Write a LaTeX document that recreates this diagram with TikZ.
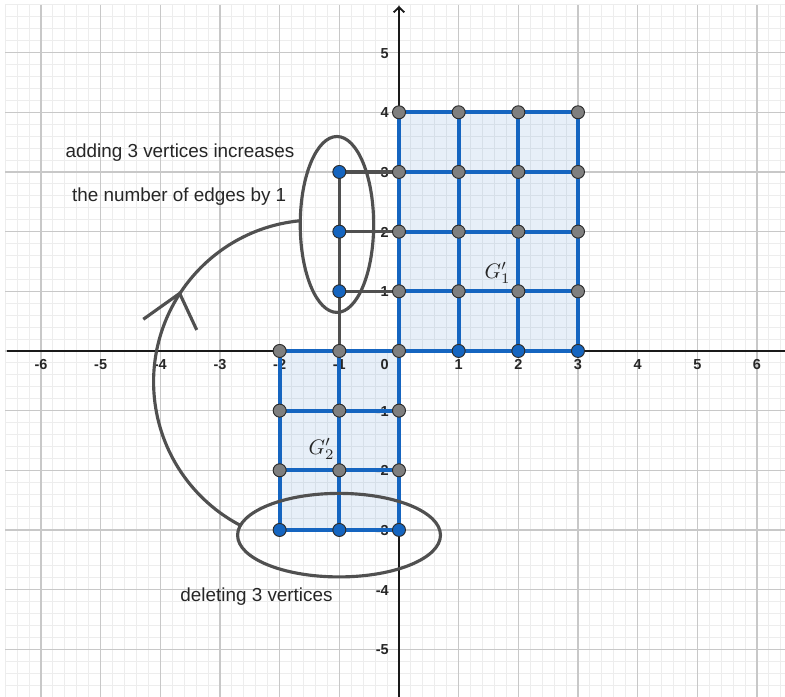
\documentclass[tikz,border=0pt]{standalone}
\usepackage{fontspec}
\setmainfont{Liberation Sans}
\usetikzlibrary{arrows.meta}
\definecolor{ggblue}{HTML}{1565C0}
\definecolor{gridmajor}{HTML}{C8C8C8}
\definecolor{gridminor}{HTML}{EDEDED}
\definecolor{axiscol}{HTML}{1A1A1A}
\definecolor{edgegray}{HTML}{505050}
\definecolor{vgray}{HTML}{7F7F7F}
\definecolor{vline}{HTML}{2B2B2B}
\definecolor{txt}{HTML}{262626}
\begin{document}
\begin{tikzpicture}[
  x=1cm,y=1cm,
  minorgrid/.style={gridminor, line width=0.45pt},
  majorgrid/.style={gridmajor, line width=0.6pt},
  axisline/.style={axiscol, line width=0.9pt},
  ticklab/.style={font=\fontsize{6.9}{8}\selectfont\bfseries, text=txt, inner sep=0pt},
  polyfill/.style={fill=ggblue, fill opacity=0.1},
  bedge/.style={ggblue, line width=1.9pt},
  gedge/.style={edgegray, line width=1.7pt},
  hoop/.style={edgegray, line width=1.5pt},
  gv/.style={circle, fill=vgray, draw=vline, line width=0.45pt, minimum size=6.2pt, inner sep=0pt},
  bv/.style={circle, fill=ggblue, draw=vline, line width=0.45pt, minimum size=6.2pt, inner sep=0pt},
  note/.style={font=\fontsize{9}{11}\selectfont, text=txt, inner sep=0pt, anchor=base},
  glabel/.style={font=\fontsize{10.3}{12}\selectfont, text=txt, inner sep=0pt}
]
\useasboundingbox (-6.687,-5.799) rectangle (6.469,5.882);
\fill[white] (-6.687,-5.799) rectangle (6.469,5.882);
% grid
\draw[minorgrid] (-6.6,-5.8) grid[step=0.2] (6.469,5.8);
\draw[majorgrid] (-6.6,-5.8) grid[step=1] (6.469,5.8);
% polygon fills
\fill[polyfill] (0,0) rectangle (3,4);
\fill[polyfill] (-2,-3) rectangle (0,0);
% axes
\coordinate (xl) at (-6.57,0);
\coordinate (xr) at (6.469,0);
\coordinate (yb) at (0,-5.799);
\coordinate (yt) at (0,5.782);
\draw[axisline] (xl) -- (xr);
\draw[axisline, -{Straight Barb[length=2.4pt,width=5pt]}] (yb) -- (yt);
% tick labels
\foreach \t in {-6,...,-1,1,2,3,4,5,6}
  \node[ticklab, anchor=base] (xt\t) at (\t,-0.307) {\t};
\foreach \t in {-5,...,-1,1,2,3,4,5}
  \node[ticklab, anchor=base east] (yt\t) at (-0.165,\t-0.092) {\t};
\node[ticklab, anchor=base east] (zero) at (-0.165,-0.307) {0};
% vertex positions
\foreach \x in {-2,...,3}
  \foreach \y in {-3,...,4}
    \coordinate (p\x y\y) at (\x,\y);
% G1' edges
\foreach \x in {0,...,3} \draw[bedge] (p\x y0) -- (p\x y4);
\foreach \y in {0,...,4} \draw[bedge] (p0y\y) -- (p3y\y);
% G2' edges
\foreach \x in {-2,-1,0} \draw[bedge] (p\x y-3) -- (p\x y0);
\foreach \y in {-3,...,0} \draw[bedge] (p-2y\y) -- (p0y\y);
% added vertices edges
\draw[gedge] (p-1y0) -- (p-1y3);
\foreach \y in {1,2,3} \draw[gedge] (p-1y\y) -- (p0y\y);
% vertices
\foreach \x/\y in {0/0,0/1,0/2,0/3,0/4,1/1,1/2,1/3,1/4,2/1,2/2,2/3,2/4,3/1,3/2,3/3,3/4,
                   -2/0,-1/0,-2/-1,-1/-1,0/-1,-2/-2,-1/-2,0/-2}
  \node[gv] (v\x y\y) at (p\x y\y) {};
\foreach \x/\y in {1/0,2/0,3/0,-2/-3,-1/-3,0/-3,-1/1,-1/2,-1/3}
  \node[bv] (v\x y\y) at (p\x y\y) {};
% ellipses
\coordinate (ctop) at (-1.04,2.12);
\coordinate (cbot) at (-1.005,-3.087);
\draw[hoop] (ctop) ellipse [x radius=0.615, y radius=1.474];
\draw[hoop] (cbot) ellipse [x radius=1.70, y radius=0.70];
% arc with arrow
\coordinate (arcstart) at (-1.659,2.182);
\draw[hoop] (arcstart) arc[start angle=95.5, end angle=242.7, radius=2.714];
\coordinate (tip) at (-3.676,0.965);
\coordinate (armL) at (-4.285,0.531);
\coordinate (armR) at (-3.390,0.352);
\draw[hoop] (armL) -- (tip) -- (armR);
% texts
\node[note] (t1) at (-3.670,3.234) {adding 3 vertices increases};
\node[note] (t2) at (-3.683,2.502) {the number of edges by 1};
\node[note] (t3) at (-2.388,-4.206) {deleting 3 vertices};
\node[glabel] (g1) at (1.651,1.307) {$G'_1$};
\node[glabel] (g2) at (-1.299,-1.642) {$G'_2$};
\end{tikzpicture}
\end{document}
